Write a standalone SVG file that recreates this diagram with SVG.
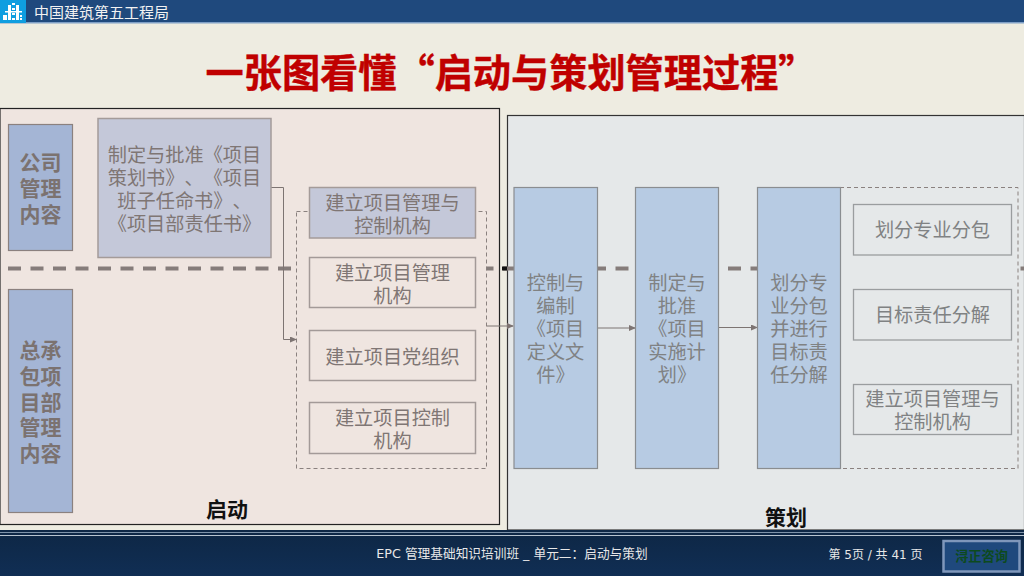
<svg xmlns="http://www.w3.org/2000/svg" width="1024" height="576" viewBox="0 0 1024 576">
<defs>
<linearGradient id="foot" x1="0" y1="0" x2="0" y2="1"><stop offset="0" stop-color="#0e2745"/><stop offset="1" stop-color="#102e54"/></linearGradient>
<marker id="arr" markerWidth="7" markerHeight="6" refX="6" refY="3" orient="auto" markerUnits="userSpaceOnUse"><path d="M0 0L7 3L0 6Z" fill="#7d7472"/></marker>
</defs>
<style>
text{font-family:"DejaVu Sans","Noto Sans CJK SC",sans-serif;text-anchor:middle;text-spacing-trim:space-all}
.cjk{font-family:"Noto Sans CJK SC",sans-serif}
.t{font-size:19.200px;fill:#7f7674;font-family:"Noto Sans CJK SC",sans-serif}
.tr{font-size:19.200px;fill:#808283;font-family:"Noto Sans CJK SC",sans-serif}
.h{font-size:21px;font-weight:bold;fill:#7b7270;font-family:"Noto Sans CJK SC",sans-serif}
.blue{fill:#a4b5d5;stroke:#8b817f;stroke-width:1.200}
.pale{fill:#c4c8d9;stroke:#a49b99;stroke-width:1.500}
.box{fill:#efe5e0;stroke:#a39a98;stroke-width:1.500}
.step{fill:#b7cbe3;stroke:#8a8d90;stroke-width:1.200}
.rbox{fill:#e5e8e9;stroke:#9a9d9f;stroke-width:1.300}
.dash{stroke:#8a817f;stroke-width:1;stroke-dasharray:4 3}
.conn{fill:none;stroke:#7d7472;stroke-width:1}
.lab{font-size:21px;font-weight:bold;fill:#111;font-family:"Noto Sans CJK SC",sans-serif}
</style>
<rect width="1024" height="576" fill="#eeece1"/>
<g id="header">
<rect width="1024" height="23" fill="#1f497d"/>
<rect y="22" width="1024" height="1.500" fill="#7f9fc6"/>
<rect width="26" height="23" fill="#0f9ee0"/>
<path d="M3 15h4v5h-4zM8 5h3v15h-3zM12 3h3v2h-3zM12 8h3v2h-3zM12 13h3v2h-3zM12 18h3v2h-3zM16 5h3v15h-3zM20 15h2v2h-2zM20 18h2v2h-2zM5 11h17v1.500h-17z" fill="#fff"/>
<text class="cjk" x="34" y="18" font-size="15" fill="#f2f2f2" style="text-anchor:start">中国建筑第五工程局</text>
</g>
<text class="cjk" x="511" y="86.500" font-size="38.200" font-weight="bold" fill="#c00000" stroke="#c00000" stroke-width="0.400" id="title">一张图看懂“启动与策划管理过程”</text>
<rect id="panel-left" x="0" y="108.500" width="499.500" height="416" fill="#efe5e0" stroke="#222" stroke-width="1.200"/>
<rect id="panel-right" x="507.500" y="115.500" width="517" height="414.500" fill="#e5e8e9" stroke="#333" stroke-width="1.200"/>
<line x1="8" y1="268.500" x2="1024" y2="268.500" stroke="#857c7a" stroke-width="4" stroke-dasharray="13 9.500"/>
<rect x="502" y="266.500" width="5" height="4" fill="#111"/>
<rect id="group-start" class="dash" fill="#efe5e0" x="296.500" y="211.500" width="190" height="257"/>
<rect id="group-plan" class="dash" fill="#e5e8e9" x="840" y="187.500" width="178" height="281"/>
<g id="connectors">
<path class="conn" d="M271 187.500H283.500V339.500H296" marker-end="url(#arr)"/>
<path class="conn" d="M487 326H513" marker-end="url(#arr)"/>
<path class="conn" d="M598 328H635" marker-end="url(#arr)"/>
<path class="conn" d="M719 327.500H757" marker-end="url(#arr)"/>
</g>
<g id="n-company"><rect class="blue" x="8.500" y="124.500" width="64" height="126"/>
<text class="h"><tspan x="40.500" y="170">公司</tspan><tspan x="40.500" y="196">管理</tspan><tspan x="40.500" y="222">内容</tspan></text></g>
<g id="n-contractor"><rect class="blue" x="8.500" y="289.500" width="64" height="223"/>
<text class="h"><tspan x="40.500" y="358">总承</tspan><tspan x="40.500" y="384">包项</tspan><tspan x="40.500" y="410">目部</tspan><tspan x="40.500" y="435">管理</tspan><tspan x="40.500" y="461">内容</tspan></text></g>
<g id="n-approve"><rect class="pale" x="98" y="118.500" width="173" height="139"/>
<text class="t"><tspan x="184.500" y="162">制定与批准《项目</tspan><tspan x="184.500" y="185">策划书》、《项目</tspan><tspan x="184.500" y="208">班子任命书》、</tspan><tspan x="184.500" y="231">《项目部责任书》</tspan></text></g>
<g id="n-org"><rect class="pale" x="309.500" y="187.500" width="166" height="50.500"/>
<text class="t"><tspan x="392.500" y="210">建立项目管理与</tspan><tspan x="392.500" y="233">控制机构</tspan></text></g>
<g id="n-pm"><rect class="box" x="309.500" y="257.500" width="166" height="50"/>
<text class="t"><tspan x="392.500" y="280">建立项目管理</tspan><tspan x="392.500" y="303">机构</tspan></text></g>
<g id="n-party"><rect class="box" x="309.500" y="330.500" width="166" height="50"/>
<text class="t" x="392.500" y="364">建立项目党组织</text></g>
<g id="n-control"><rect class="box" x="309.500" y="402.500" width="166" height="51"/>
<text class="t"><tspan x="392.500" y="425">建立项目控制</tspan><tspan x="392.500" y="448">机构</tspan></text></g>
<g id="n-define"><rect class="step" x="514" y="187.500" width="83.500" height="281"/>
<text class="tr"><tspan x="555.500" y="290">控制与</tspan><tspan x="555.500" y="313">编制</tspan><tspan x="555.500" y="336">《项目</tspan><tspan x="555.500" y="359">定义文</tspan><tspan x="555.500" y="382">件》</tspan></text></g>
<g id="n-implement"><rect class="step" x="635.500" y="187.500" width="83" height="281"/>
<text class="tr"><tspan x="677" y="290">制定与</tspan><tspan x="677" y="313">批准</tspan><tspan x="677" y="336">《项目</tspan><tspan x="677" y="359">实施计</tspan><tspan x="677" y="382">划》</tspan></text></g>
<g id="n-divide"><rect class="step" x="757.500" y="187.500" width="83" height="281"/>
<text class="tr"><tspan x="799" y="290">划分专</tspan><tspan x="799" y="313">业分包</tspan><tspan x="799" y="336">并进行</tspan><tspan x="799" y="359">目标责</tspan><tspan x="799" y="382">任分解</tspan></text></g>
<g id="n-sub"><rect class="rbox" x="853.500" y="204.500" width="158" height="50.500"/><text class="tr" x="932.500" y="237">划分专业分包</text></g>
<g id="n-target"><rect class="rbox" x="853.500" y="289.500" width="158" height="50.500"/><text class="tr" x="932.500" y="322">目标责任分解</text></g>
<g id="n-org2"><rect class="rbox" x="853.500" y="384.500" width="158" height="50"/>
<text class="tr"><tspan x="932.500" y="406">建立项目管理与</tspan><tspan x="932.500" y="429">控制机构</tspan></text></g>
<text class="lab" x="227" y="517">启动</text>
<text class="lab" x="786" y="525">策划</text>
<g id="footer">
<rect y="530" width="1024" height="46" fill="url(#foot)"/>
<line x1="0" y1="532.500" x2="1024" y2="532.500" stroke="#7f93aa" stroke-width="1"/>
<line x1="0" y1="535.500" x2="1024" y2="535.500" stroke="#b8c4d0" stroke-width="1"/>
<text x="512" y="558" font-size="12.700" fill="#e8e8e8">EPC 管理基础知识培训班 _ 单元二：启动与策划</text>
<text x="875.500" y="559" font-size="12" fill="#e8e8e8">第 5页 / 共 41 页</text>
<rect x="943.500" y="541" width="76" height="30.500" fill="#1f497d" stroke="#7f97bb" stroke-width="2.500"/>
<text x="981.500" y="561" font-size="13.200" font-weight="bold" fill="#0d4a1e">浔正咨询</text>
</g>
</svg>
